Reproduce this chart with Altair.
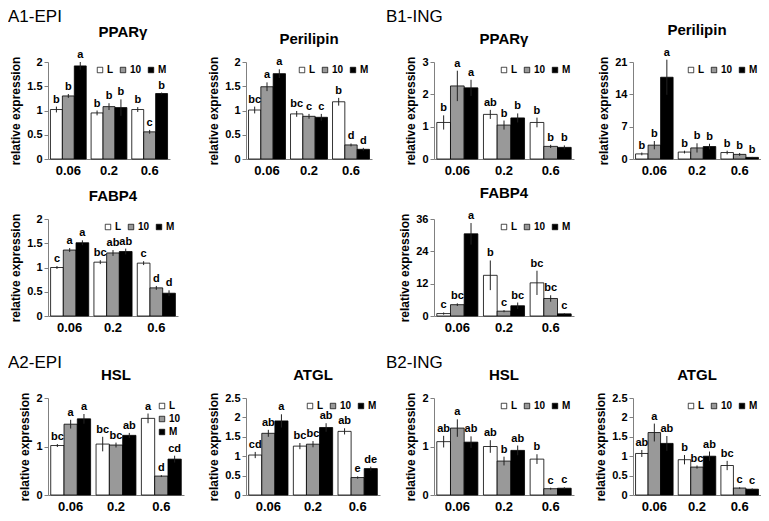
import altair as alt
import pandas as pd

CONC = ["0.06", "0.2", "0.6"]
GROUPS = ["L", "10", "M"]
COLORS = ["#ffffff", "#999999", "#000000"]
YTITLE = "relative expression"

# order: 0.06 (L,10,M), 0.2 (L,10,M), 0.6 (L,10,M)
a1_ppar_val = [1.02, 1.30, 1.92, 0.95, 1.08, 1.06, 1.02, 0.56, 1.35]
a1_ppar_err = [0.06, 0.04, 0.08, 0.05, 0.07, 0.17, 0.05, 0.04, 0.02]
a1_ppar_sig = ["b", "b", "a", "b", "b", "b", "b", "c", "b"]

a1_peri_val = [1.01, 1.49, 1.76, 0.93, 0.88, 0.86, 1.18, 0.29, 0.20]
a1_peri_err = [0.07, 0.09, 0.09, 0.06, 0.05, 0.07, 0.08, 0.03, 0.03]
a1_peri_sig = ["bc", "a", "a", "bc", "c", "c", "b", "d", "d"]

b1_ppar_val = [1.13, 2.26, 2.20, 1.38, 1.05, 1.27, 1.13, 0.39, 0.36]
b1_ppar_err = [0.22, 0.47, 0.25, 0.14, 0.14, 0.14, 0.15, 0.05, 0.06]
b1_ppar_sig = ["b", "a", "a", "ab", "b", "b", "b", "b", "b"]

b1_peri_val = [1.1, 3.0, 17.7, 1.5, 2.4, 2.7, 1.4, 1.0, 0.35]
b1_peri_err = [0.3, 0.9, 3.8, 0.3, 1.0, 0.6, 0.4, 0.3, 0.1]
b1_peri_sig = ["b", "b", "a", "b", "b", "b", "b", "b", "b"]

a1_fabp_val = [1.00, 1.36, 1.51, 1.11, 1.30, 1.33, 1.09, 0.58, 0.47]
a1_fabp_err = [0.03, 0.04, 0.05, 0.04, 0.06, 0.06, 0.04, 0.04, 0.06]
a1_fabp_sig = ["c", "a", "a", "bc", "ab", "ab", "c", "d", "d"]

b1_fabp_val = [0.9, 4.2, 30.5, 15.1, 1.8, 3.8, 12.3, 6.5, 0.8]
b1_fabp_err = [0.4, 0.5, 4.0, 5.5, 0.4, 1.2, 4.5, 1.2, 0.2]
b1_fabp_sig = ["c", "bc", "a", "b", "c", "bc", "bc", "bc", "c"]

a2_hsl_val = [1.02, 1.46, 1.57, 1.05, 1.03, 1.23, 1.58, 0.39, 0.74]
a2_hsl_err = [0.03, 0.09, 0.10, 0.15, 0.05, 0.05, 0.10, 0.02, 0.07]
a2_hsl_sig = ["bc", "a", "a", "bc", "bc", "ab", "a", "d", "cd"]

a2_atgl_val = [1.03, 1.59, 1.91, 1.26, 1.31, 1.74, 1.64, 0.45, 0.68]
a2_atgl_err = [0.08, 0.09, 0.17, 0.08, 0.08, 0.11, 0.08, 0.03, 0.05]
a2_atgl_sig = ["cd", "ab", "a", "bc", "bc", "ab", "ab", "e", "de"]

b2_hsl_val = [1.10, 1.38, 1.09, 1.00, 0.70, 0.92, 0.74, 0.13, 0.14]
b2_hsl_err = [0.12, 0.18, 0.12, 0.13, 0.09, 0.10, 0.10, 0.02, 0.02]
b2_hsl_sig = ["ab", "a", "ab", "ab", "b", "ab", "b", "c", "c"]

b2_atgl_val = [1.07, 1.61, 1.33, 0.91, 0.72, 1.00, 0.76, 0.18, 0.15]
b2_atgl_err = [0.09, 0.23, 0.19, 0.12, 0.04, 0.12, 0.12, 0.02, 0.02]
b2_atgl_sig = ["ab", "a", "ab", "b", "bc", "ab", "bc", "c", "c"]

H = 97  # plot height of every panel


def panel(title, vals, errs, sigs, ymax, yticks, width,
          legend_dir="horizontal", title_dx=0):
    df = pd.DataFrame({
        "conc": [c for c in CONC for _ in GROUPS],
        "grp": GROUPS * 3,
        "val": vals,
        "err": errs,
        "sig": sigs,
    })
    df["lo"] = df["val"] - df["err"]
    df["hi"] = df["val"] + df["err"]
    base = alt.Chart(df)
    yscale = alt.Scale(domain=[0, ymax], nice=False, zero=True)
    yaxis = alt.Axis(values=yticks, title=YTITLE, format=".1~f",
                     labelOverlap=False)
    x = alt.X("conc:N", sort=CONC,
              scale=alt.Scale(paddingInner=0.12, paddingOuter=0.06),
              axis=alt.Axis(title=None, labelAngle=0, ticks=False))
    xo = alt.XOffset("grp:N", sort=GROUPS,
                     scale=alt.Scale(paddingInner=0, paddingOuter=0))
    bars = base.mark_bar(stroke="black", strokeWidth=0.8).encode(
        x=x, xOffset=xo,
        y=alt.Y("val:Q", scale=yscale, axis=yaxis),
        fill=alt.Fill("grp:N", sort=GROUPS,
                      scale=alt.Scale(domain=GROUPS, range=COLORS),
                      legend=alt.Legend(title=None, orient="top-right",
                                        direction=legend_dir)),
    )
    rules = base.mark_rule(color="#222222", strokeWidth=1).encode(
        x=x, xOffset=xo,
        y=alt.Y("lo:Q", scale=yscale, axis=yaxis), y2="hi:Q",
    )
    letters = base.mark_text(baseline="bottom", dy=-2, fontSize=11,
                             fontWeight="bold", color="black").encode(
        x=x, xOffset=xo,
        y=alt.Y("hi:Q", scale=yscale, axis=yaxis), text="sig:N",
    )
    return alt.layer(bars, rules, letters).properties(
        width=width, height=H,
        title=alt.TitleParams(text=title, dx=title_dx, fontSize=15,
                              fontWeight="bold", color="black", offset=9,
                              anchor="middle"),
    )


def spacer(w, h, label=None, lx=0, ly=0):
    if label is None:
        return alt.Chart(alt.Data(values=[])).mark_point(opacity=0).encode(
            x=alt.value(0), y=alt.value(0)).properties(width=w, height=h)
    return alt.Chart(pd.DataFrame({"label": [label]})).mark_text(
        align="left", baseline="top", fontSize=17, fontWeight="normal",
        color="black").encode(
        x=alt.value(lx), y=alt.value(ly), text="label:N"
    ).properties(width=w, height=h)


t2 = [0, 0.5, 1, 1.5, 2]
t25 = [0, 0.5, 1, 1.5, 2, 2.5]

G1, G2, G3 = 62, 54, 59  # gap columns

row1 = [
    spacer(11, H, "A1-EPI", -29, -53),
    panel("PPARγ", a1_ppar_val, a1_ppar_err, a1_ppar_sig, 2, t2, 122, title_dx=14),
    spacer(G1, H),
    panel("Perilipin", a1_peri_val, a1_peri_err, a1_peri_sig, 2, t2, 126),
    spacer(G2, H, "B1-ING", 6, -53),
    panel("PPARγ", b1_ppar_val, b1_ppar_err, b1_ppar_sig, 3, [0, 1, 2, 3], 140),
    spacer(G3, H),
    panel("Perilipin", b1_peri_val, b1_peri_err, b1_peri_sig, 21, [0, 7, 14, 21], 128),
]
gap1 = [spacer(1, 60) for _ in range(8)]
row2 = [
    spacer(11, H),
    panel("FABP4", a1_fabp_val, a1_fabp_err, a1_fabp_sig, 2, t2, 130),
    spacer(G1, H),
    spacer(1, H),
    spacer(G2, H),
    panel("FABP4", b1_fabp_val, b1_fabp_err, b1_fabp_sig, 36, [0, 12, 24, 36], 140),
    spacer(G3, H),
    spacer(1, H),
]
gap2 = [spacer(1, 82) for _ in range(8)]
row3 = [
    spacer(11, H, "A2-EPI", -29, -43),
    panel("HSL", a2_hsl_val, a2_hsl_err, a2_hsl_sig, 2, [0, 1, 2], 136,
          legend_dir="vertical"),
    spacer(G1, H),
    panel("ATGL", a2_atgl_val, a2_atgl_err, a2_atgl_sig, 2.5, t25, 134),
    spacer(G2, H, "B2-ING", 6, -43),
    panel("HSL", b2_hsl_val, b2_hsl_err, b2_hsl_sig, 2, [0, 1, 2], 140),
    spacer(G3, H),
    panel("ATGL", b2_atgl_val, b2_atgl_err, b2_atgl_sig, 2.5, t25, 128),
]

chart = alt.concat(
    *(row1 + gap1 + row2 + gap2 + row3),
    columns=8, spacing=0, bounds="flush", align="each",
).resolve_scale(
    x="independent", y="independent", xOffset="independent", fill="independent"
).resolve_legend(fill="independent").properties(padding=0).configure(
    font="Liberation Sans"
).configure_view(stroke=None).configure_axis(
    grid=False, domainColor="#808080", tickColor="#808080",
    labelColor="black", titleColor="black",
    labelFontWeight="bold", titleFontWeight="bold",
).configure_axisY(
    tickSize=4, labelFontSize=11, titleFontSize=12, titlePadding=4,
    labelPadding=2, labelOverlap=False,
).configure_axisX(
    labelFontSize=13, labelPadding=5,
).configure_legend(
    padding=0, offset=3, labelFontSize=10, labelFontWeight="bold",
    labelColor="black", symbolType="square", symbolSize=30,
    symbolStrokeColor="black", symbolStrokeWidth=0.7, labelOffset=2,
    columnPadding=4, rowPadding=3,
)

chart.save("out.html", embed_options={"renderer": "svg", "actions": False})
